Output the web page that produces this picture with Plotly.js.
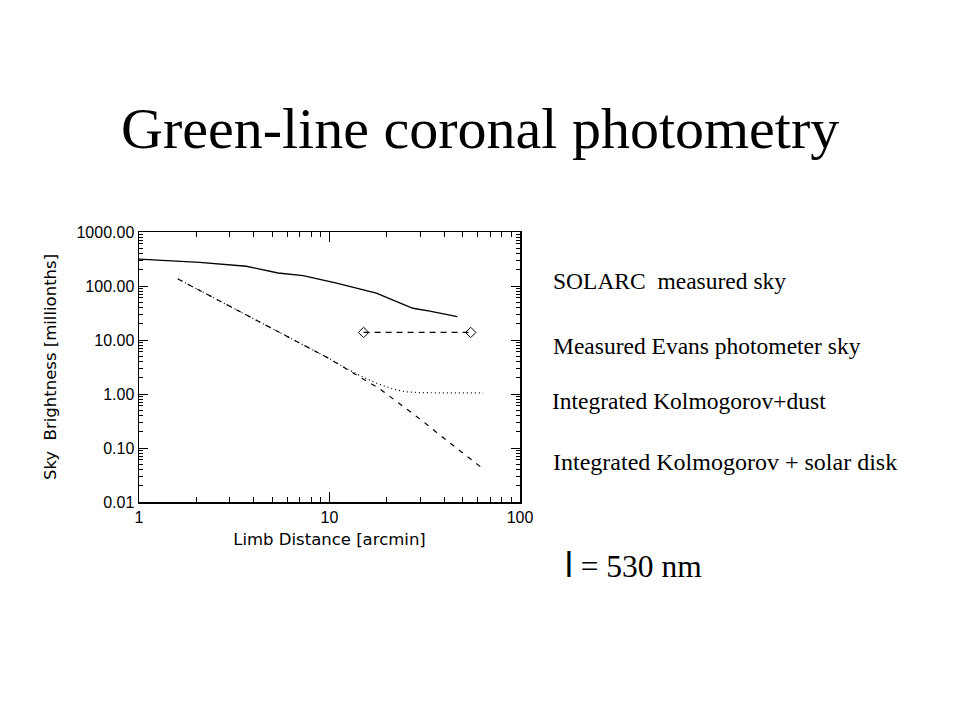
<!DOCTYPE html>
<html>
<head>
<meta charset="utf-8">
<script src="https://cdn.plot.ly/plotly-3.0.1.min.js"></script>
<style>html,body{margin:0;padding:0;background:#fff;}#chart{width:960px;height:720px;}</style>
</head>
<body>
<div id="chart"></div>
<script>
// SOLARC measured sky
const solarcX = [1.0, 1.57, 2.08, 3.66, 5.37, 7.26, 10.9, 17.6, 27.4, 33.6, 46.9];
const solarcY = [315, 295, 275, 232, 174, 155, 113, 73.8, 38.7, 34.4, 27.1];
// Measured Evans photometer sky
const evansX = [15.1, 55.1];
const evansY = [13.8, 13.8];
// Integrated Kolmogorov + dust
const dustX = [1.6, 2.0, 3.0, 4.0, 5.0, 7.0, 10, 12, 14.4, 18, 21.5, 25, 30, 40, 50, 64];
const dustY = [135, 89, 42, 24.7, 16.4, 8.8, 4.5, 3.1, 2.2, 1.54, 1.24, 1.1, 1.06, 1.05, 1.05, 1.05];
// Integrated Kolmogorov + solar disk
const diskX = [1.6, 2.0, 3.0, 4.0, 5.0, 7.0, 10, 14, 18.4, 24, 30, 40, 50, 63];
const diskY = [135, 89, 42, 24.7, 16.4, 8.8, 4.5, 2.2, 1.24, 0.61, 0.34, 0.15, 0.080, 0.043];

const yTickVals = [0.01, 0.1, 1, 10, 100, 1000];
const yTickText = ["0.01", "0.10", "1.00", "10.00", "100.00", "1000.00"];
const xTickVals = [1, 10, 100];
const xTickText = ["1", "10", "100"];

const seriesLabels = ["SOLARC  measured sky", "Measured Evans photometer sky", "Integrated Kolmogorov+dust", "Integrated Kolmogorov + solar disk"];

// minor tick positions (2..9 within each decade)
function minorTicks(decades) {
  const out = [];
  decades.forEach(d => { for (let k = 2; k <= 9; k++) out.push(k * d); });
  return out;
}
const xMinor = minorTicks([1, 10]);
const yMinor = minorTicks([0.01, 0.1, 1, 10, 100]);

const tickFont = {family: "Liberation Sans, Arial, sans-serif", size: 16, color: "#000"};
const titleFont = {family: "DejaVu Sans, sans-serif", size: 16.5, color: "#000"};
const serif = "Liberation Serif, Times New Roman, serif";

const traces = [
  {x: solarcX, y: solarcY, mode: "lines", line: {color: "#000", width: 1.3}, name: seriesLabels[0]},
  {x: evansX, y: evansY, mode: "lines+markers", line: {color: "#000", width: 1.2, dash: "6px,5px"},
   marker: {symbol: "diamond-open", size: 8, color: "#000", line: {width: 1}}, name: seriesLabels[1]},
  {x: dustX, y: dustY, mode: "lines", line: {color: "#000", width: 1.2, dash: "1px,3px"}, name: seriesLabels[2]},
  {x: diskX, y: diskY, mode: "lines", line: {color: "#000", width: 1.2, dash: "5px,6px"}, name: seriesLabels[3]}
];

const layout = {
  width: 960, height: 720,
  paper_bgcolor: "#fff", plot_bgcolor: "#fff",
  showlegend: false,
  margin: {l: 139, r: 440, t: 232, b: 218},
  xaxis: {
    type: "log", range: [0, 2], showgrid: false, zeroline: false,
    showline: true, linecolor: "#000", linewidth: 1.5, mirror: "ticks",
    ticks: "inside", ticklen: 10, tickcolor: "#000", tickwidth: 1,
    tickvals: xTickVals, ticktext: xTickText, tickfont: tickFont,
    minor: {tickmode: "array", tickvals: xMinor, ticks: "inside", ticklen: 5, tickcolor: "#000", showgrid: false},
    title: {text: "Limb Distance [arcmin]", font: titleFont, standoff: 8},
    automargin: false
  },
  yaxis: {
    type: "log", range: [-2, 3], showgrid: false, zeroline: false,
    showline: true, linecolor: "#000", linewidth: 1.5, mirror: "ticks",
    ticks: "inside", ticklen: 9, tickcolor: "#000", tickwidth: 1,
    tickvals: yTickVals, ticktext: yTickText, tickfont: tickFont,
    minor: {tickmode: "array", tickvals: yMinor, ticks: "inside", ticklen: 4, tickcolor: "#000", showgrid: false},
    title: {text: "Sky  Brightness [millionths]", font: titleFont, standoff: 15},
    automargin: false
  },
  annotations: [
    {text: "Green-line coronal photometry", xref: "paper", yref: "paper", x: 0, y: 0,
     xanchor: "center", yanchor: "middle", showarrow: false,
     font: {family: serif, size: 58, color: "#000"}},
    {text: seriesLabels[0], xref: "paper", yref: "paper", showarrow: false, xanchor: "left", yanchor: "middle", font: {family: serif, size: 23.5, color: "#000"}},
    {text: seriesLabels[1], xref: "paper", yref: "paper", showarrow: false, xanchor: "left", yanchor: "middle", font: {family: serif, size: 23.5, color: "#000"}},
    {text: seriesLabels[2], xref: "paper", yref: "paper", showarrow: false, xanchor: "left", yanchor: "middle", font: {family: serif, size: 23.5, color: "#000"}},
    {text: seriesLabels[3], xref: "paper", yref: "paper", showarrow: false, xanchor: "left", yanchor: "middle", font: {family: serif, size: 24, color: "#000"}},
    {text: "<span style='font-family:Liberation Sans;font-size:35px'>l</span> = 530 nm", xref: "paper", yref: "paper", showarrow: false, xanchor: "left", yanchor: "middle", font: {family: serif, size: 31.5, color: "#000"}}
  ]
};

// position annotations in page pixels, converted to paper coordinates
const plotW = 960 - 139 - 440, plotH = 720 - 232 - 218;
function px(x) { return (x - 139) / plotW; }
function py(y) { return (720 - 218 - y) / plotH; }
const annPos = [[480, 128], [551, 281], [551, 346], [550, 401], [551, 462], [563, 564]];
layout.annotations.forEach((a, i) => { a.x = px(annPos[i][0]); a.y = py(annPos[i][1]); });

Plotly.newPlot("chart", traces, layout, {staticPlot: true});
</script>
</body>
</html>
